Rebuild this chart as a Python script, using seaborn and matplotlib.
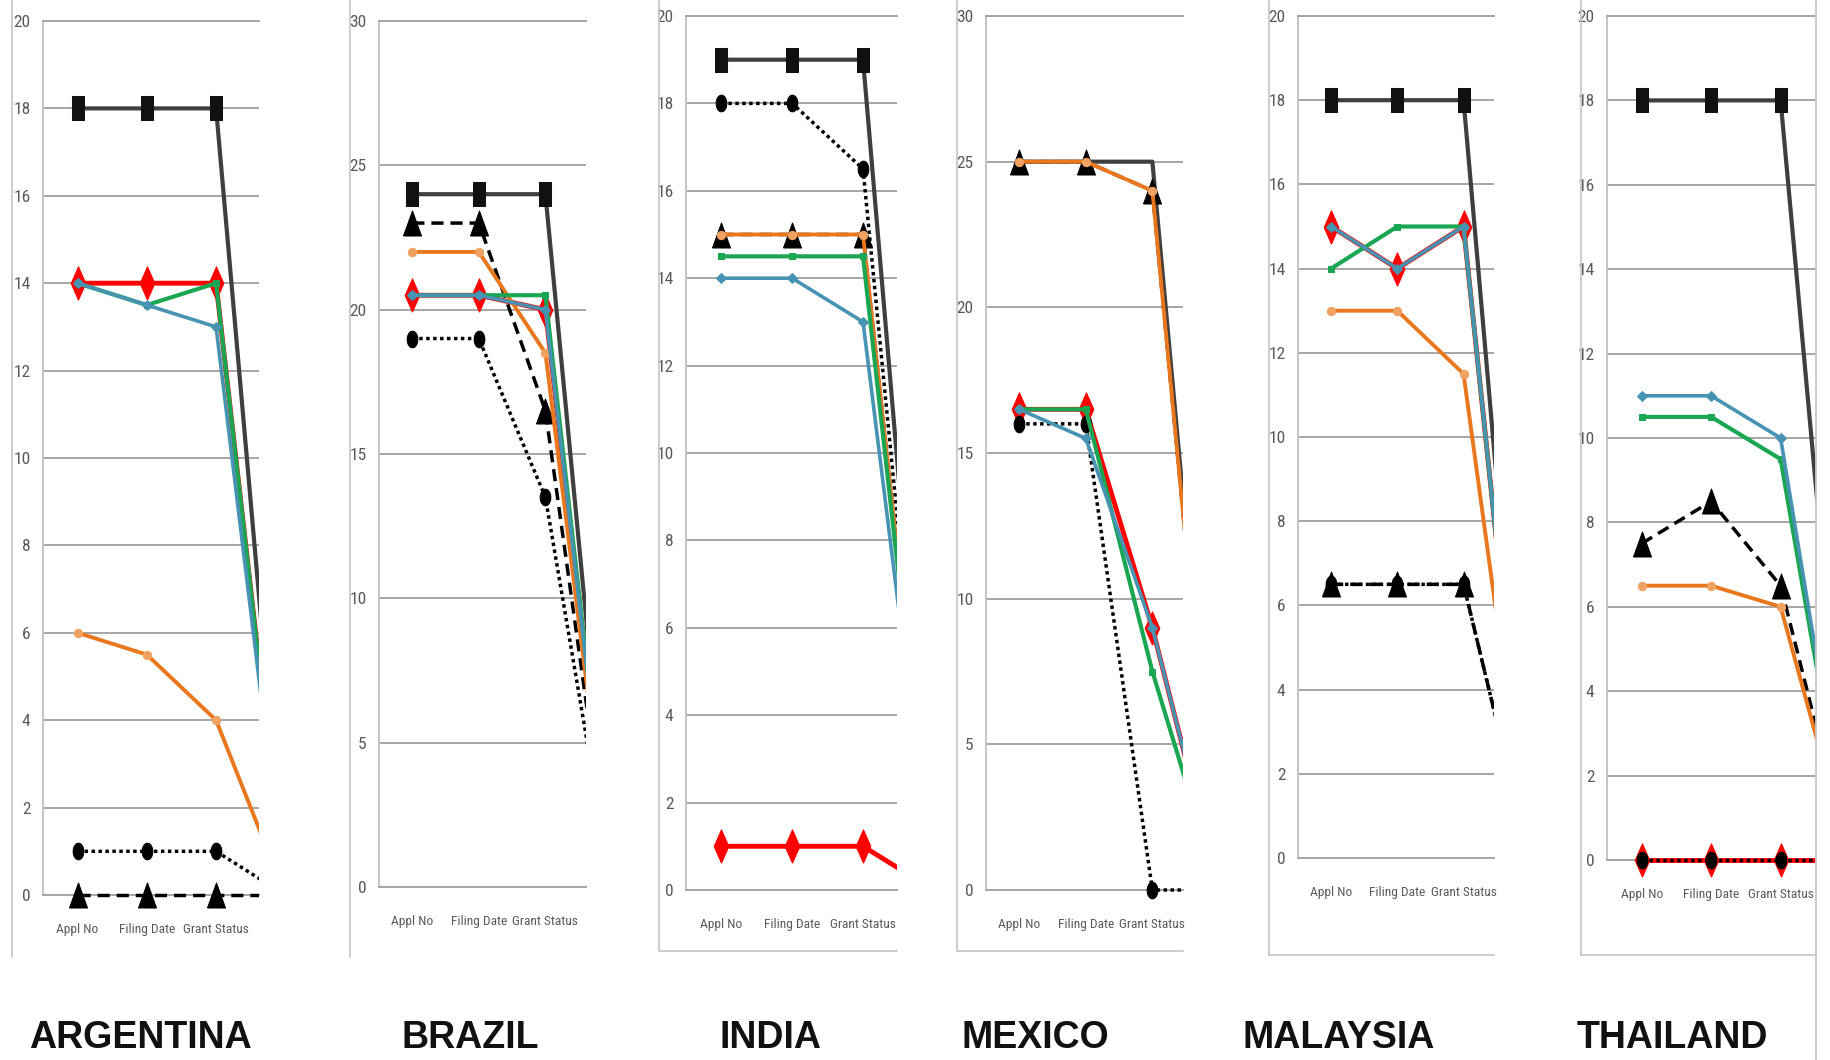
import matplotlib
matplotlib.use("Agg")
import matplotlib.pyplot as plt
import matplotlib.patches as mpatches
from matplotlib import font_manager
from matplotlib.lines import Line2D
import seaborn as sns
import numpy as np
import pandas as pd

# categories (4th one lies past the clipped right edge of every panel)
categories = ["Appl No", "Filing Date", "Grant Status", "Total"]
countries = ["ARGENTINA", "BRAZIL", "INDIA", "MEXICO", "MALAYSIA", "THAILAND"]

argentina = {
    "sq": [18, 18, 18, 0], "tri": [0, 0, 0, 0], "red": [14, 14, 14, 0],
    "dot": [1, 1, 1, 0], "orange": [6, 5.5, 4, 0], "green": [14, 13.5, 14, 0],
    "teal": [14, 13.5, 13, 0],
}
brazil = {
    "sq": [24, 24, 24, 0], "tri": [23, 23, 16.5, 0], "red": [20.5, 20.5, 20, 0],
    "dot": [19, 19, 13.5, 0], "orange": [22, 22, 18.5, 0], "green": [20.5, 20.5, 20.5, 0],
    "teal": [20.5, 20.5, 20, 0],
}
india = {
    "sq": [19, 19, 19, 0], "tri": [15, 15, 15, 0], "red": [1, 1, 1, 0],
    "dot": [18, 18, 16.5, 0], "orange": [15, 15, 15, 0], "green": [14.5, 14.5, 14.5, 0],
    "teal": [14, 14, 13, 0],
}
mexico = {
    "sq": [25, 25, 25, 0], "tri": [25, 25, 24, 0], "red": [16.5, 16.5, 9, 0],
    "dot": [16, 16, 0, 0], "orange": [25, 25, 24, 0], "green": [16.5, 16.5, 7.5, 0],
    "teal": [16.5, 15.5, 9, 0],
}
malaysia = {
    "sq": [18, 18, 18, 0], "tri": [6.5, 6.5, 6.5, 0], "red": [15, 14, 15, 0],
    "dot": [6.5, 6.5, 6.5, 0], "orange": [13, 13, 11.5, 0], "green": [14, 15, 15, 0],
    "teal": [15, 14, 15, 0],
}
thailand = {
    "sq": [18, 18, 18, 0], "tri": [7.5, 8.5, 6.5, 0], "red": [0, 0, 0, 0],
    "dot": [0, 0, 0, 0], "orange": [6.5, 6.5, 6, 0], "green": [10.5, 10.5, 9.5, 0],
    "teal": [11, 11, 10, 0],
}
panel_data = dict(zip(countries, [argentina, brazil, india, mexico, malaysia, thailand]))
y_max = {"ARGENTINA": 20, "BRAZIL": 30, "INDIA": 20, "MEXICO": 30, "MALAYSIA": 20, "THAILAND": 20}
y_step = {"ARGENTINA": 2, "BRAZIL": 5, "INDIA": 2, "MEXICO": 5, "MALAYSIA": 2, "THAILAND": 2}

# layout (pixels in a 1830x1060 canvas): left, right, top gridline, zero line
W, H = 1830, 1060
plot_box = {
    "ARGENTINA": (43, 259, 21, 895), "BRAZIL": (379, 586, 21, 887),
    "INDIA": (686, 897, 16, 890), "MEXICO": (986, 1183, 16, 890),
    "MALAYSIA": (1298, 1494, 16, 858), "THAILAND": (1607, 1816, 16, 860),
}
x_right = {"ARGENTINA": 2.62, "BRAZIL": 2.61, "INDIA": 2.48, "MEXICO": 2.46, "MALAYSIA": 2.46, "THAILAND": 2.51}
title_x = {"ARGENTINA": 140, "BRAZIL": 470, "INDIA": 771, "MEXICO": 1035, "MALAYSIA": 1339, "THAILAND": 1672}
border_x = {"ARGENTINA": 12, "BRAZIL": 350, "INDIA": 659, "MEXICO": 957, "MALAYSIA": 1269, "THAILAND": 1581}
border_bottom = {"ARGENTINA": None, "BRAZIL": None, "INDIA": 951, "MEXICO": 951, "MALAYSIA": 955, "THAILAND": 955}
no_marker = {"MEXICO": ["sq"]}

# marker shapes (tall, like the squeezed Excel charts)
rect = [(-0.27, -0.5), (0.27, -0.5), (0.27, 0.5), (-0.27, 0.5), (-0.27, -0.5)]
diamond = [(0, -0.5), (0.22, 0), (0, 0.5), (-0.22, 0), (0, -0.5)]
tri = [(-0.36, -0.5), (0.36, -0.5), (0, 0.5), (-0.36, -0.5)]
t = np.linspace(0, 2 * np.pi, 30)
ellipse = list(zip(0.32 * np.cos(t), 0.5 * np.sin(t)))

styles = {
    "sq": dict(color="#3F3F3F", lw=3, ls="-", marker=rect, ms=17, mfc="#111111", mec="#111111"),
    "tri": dict(color="#000000", lw=2.5, ls=(0, (3.5, 2)), marker=tri, ms=18, mfc="#000000", mec="#000000"),
    "red": dict(color="#FF0000", lw=3.5, ls="-", marker=diamond, ms=24, mfc="#FF0000", mec="#FF0000"),
    "dot": dict(color="#000000", lw=2.5, ls=(0, (1, 1)), marker=ellipse, ms=12, mfc="#000000", mec="#000000"),
    "orange": dict(color="#E8771E", lw=2.8, ls="-", marker="o", ms=6, mfc="#F0A262", mec="#F0A262"),
    "green": dict(color="#1BA653", lw=3, ls="-", marker="s", ms=5, mfc="#1BA653", mec="#1BA653"),
    "teal": dict(color="#4693B3", lw=2.6, ls="-", marker="D", ms=5, mfc="#4693B3", mec="#4693B3"),
}
draw_order = ["sq", "tri", "red", "dot", "orange", "green", "teal"]

sns.set_theme(style="white")
plt.rcParams["font.family"] = ["Liberation Sans", "DejaVu Sans"]

# pick a narrow face for the squeezed tick labels if one is installed
narrow_names = ["Liberation Sans Narrow", "Roboto Condensed", "Open Sans Condensed",
                "DejaVu Sans Condensed", "Noto Sans Condensed"]
tick_family, tick_stretch = None, "normal"
all_fonts = font_manager.fontManager.ttflist
for nm in narrow_names:
    if any(f.name == nm for f in all_fonts):
        tick_family = nm
        break
if tick_family is None:
    for f in all_fonts:
        if f.name in ("Noto Sans", "DejaVu Sans", "Open Sans", "Roboto") and \
                str(f.stretch) in ("condensed", "semi-condensed", "extra-condensed"):
            tick_family, tick_stretch = f.name, f.stretch
            break
if tick_family is None:
    tick_family, ytick_size, xtick_size = "DejaVu Sans", 10, 7
else:
    ytick_size, xtick_size = 12.5, 9.6

grid_c = "#A6A6A6"
fig = plt.figure(figsize=(W / 100, H / 100), dpi=100)
fig.patch.set_facecolor("white")

for country in countries:
    L, R, T, B = plot_box[country]
    ax = fig.add_axes([L / W, 1 - B / H, (R - L) / W, (B - T) / H])
    data = panel_data[country]
    for k, key in enumerate(draw_order):
        st = dict(styles[key])
        if key in no_marker.get(country, []):
            st["marker"] = None
        df = pd.DataFrame({"category": categories, "value": data[key]})
        sns.lineplot(data=df, x="category", y="value", ax=ax, sort=False,
                     errorbar=None, zorder=3 + k, **st)
        line = ax.lines[-1]
        line.set_clip_path(mpatches.Rectangle((0, -0.1), 1, 1.2, transform=ax.transAxes))

    ax.set_xlim(-0.5, x_right[country])
    ax.set_ylim(0, y_max[country])
    ax.set_yticks(np.arange(0, y_max[country] + 1, y_step[country]))
    ax.yaxis.grid(True, color=grid_c, lw=1.4)
    ax.xaxis.grid(False)
    ax.set_axisbelow(True)
    ax.set_xlabel("")
    ax.set_ylabel("")
    for s in ["top", "bottom"]:
        ax.spines[s].set_color(grid_c)
        ax.spines[s].set_linewidth(1.4)
    ax.spines["left"].set_color("#C4C4C4")
    ax.spines["left"].set_linewidth(1.4)
    ax.spines["right"].set_visible(False)
    ax.tick_params(axis="y", length=0, pad=9, labelsize=ytick_size, labelcolor="#595959")
    ax.tick_params(axis="x", length=0, pad=20, labelsize=xtick_size, labelcolor="#595959")
    for lab in ax.get_xticklabels() + ax.get_yticklabels():
        lab.set_family(tick_family)
        lab.set_stretch(tick_stretch)

    fig.text(title_x[country] / W, 1 - 1038 / H, country, ha="center", va="center",
             fontsize=27, fontweight="bold", color="#111111")

    bx = border_x[country]
    bb = border_bottom[country]
    fig.add_artist(Line2D([bx / W, bx / W], [1.0, 1 - (bb if bb else 957) / H], color="#C8C8C8", lw=1.3))
    if bb:
        fig.add_artist(Line2D([bx / W, R / W], [1 - bb / H, 1 - bb / H], color="#C8C8C8", lw=1.3))

# right border of the last chart runs the full height
fig.add_artist(Line2D([1816 / W, 1816 / W], [0, 1], color="#C8C8C8", lw=1.3))

fig.savefig("out.png", dpi=100, facecolor="white")
plt.close(fig)
